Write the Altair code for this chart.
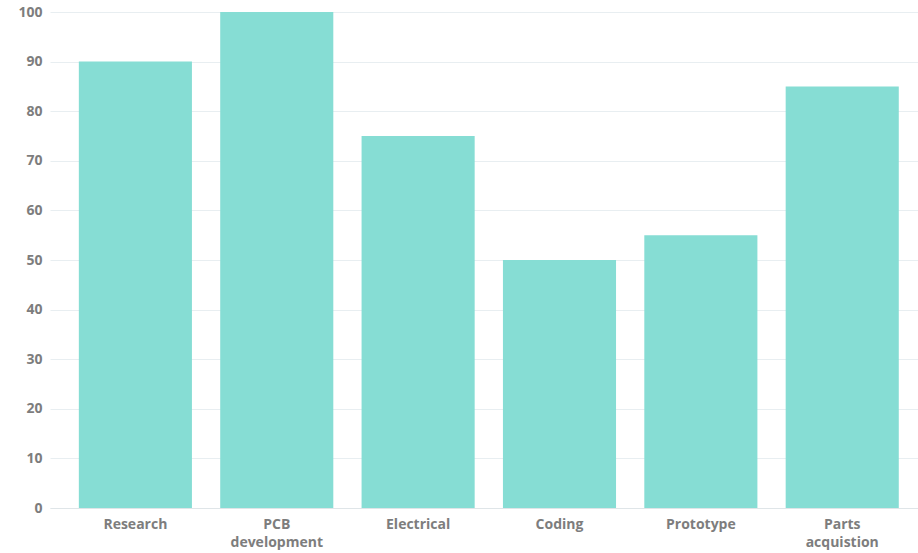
import altair as alt
import pandas as pd

categories = ["Research", "PCB development", "Electrical", "Coding", "Prototype", "Parts acquistion"]
values = [90, 100, 75, 50, 55, 85]

df = pd.DataFrame({"category": categories, "value": values})

label_color = "#7d7d7d"
font = "Open Sans"

chart = alt.Chart(df).mark_bar(color="#86ddd4").encode(
    x=alt.X(
        "category:N",
        sort=categories,
        scale=alt.Scale(paddingInner=0.2, paddingOuter=0.17, align=0.6),
        axis=alt.Axis(
            title=None,
            labelAngle=0,
            labelExpr="split(datum.label, ' ')",
            labelFont=font,
            labelFontWeight="bold",
            labelFontSize=14,
            labelColor=label_color,
            labelLineHeight=18,
            labelPadding=9,
            ticks=False,
            domainColor="#dfe5e8",
            labelBaseline="top",
        ),
    ),
    y=alt.Y(
        "value:Q",
        scale=alt.Scale(domain=[0, 100], nice=False),
        axis=alt.Axis(
            title=None,
            values=list(range(0, 101, 10)),
            labelFont=font,
            labelFontWeight="bold",
            labelFontSize=14,
            labelColor=label_color,
            labelPadding=8,
            ticks=False,
            domain=False,
            gridColor="#e8eef1",
        ),
    ),
).properties(
    width=868,
    height=496,
    autosize=alt.AutoSizeParams(type="none"),
    padding={"left": 50, "top": 12, "right": 0, "bottom": 45},
).configure_view(stroke=None)

chart.save("out.html", embed_options={"renderer": "svg", "actions": False})
